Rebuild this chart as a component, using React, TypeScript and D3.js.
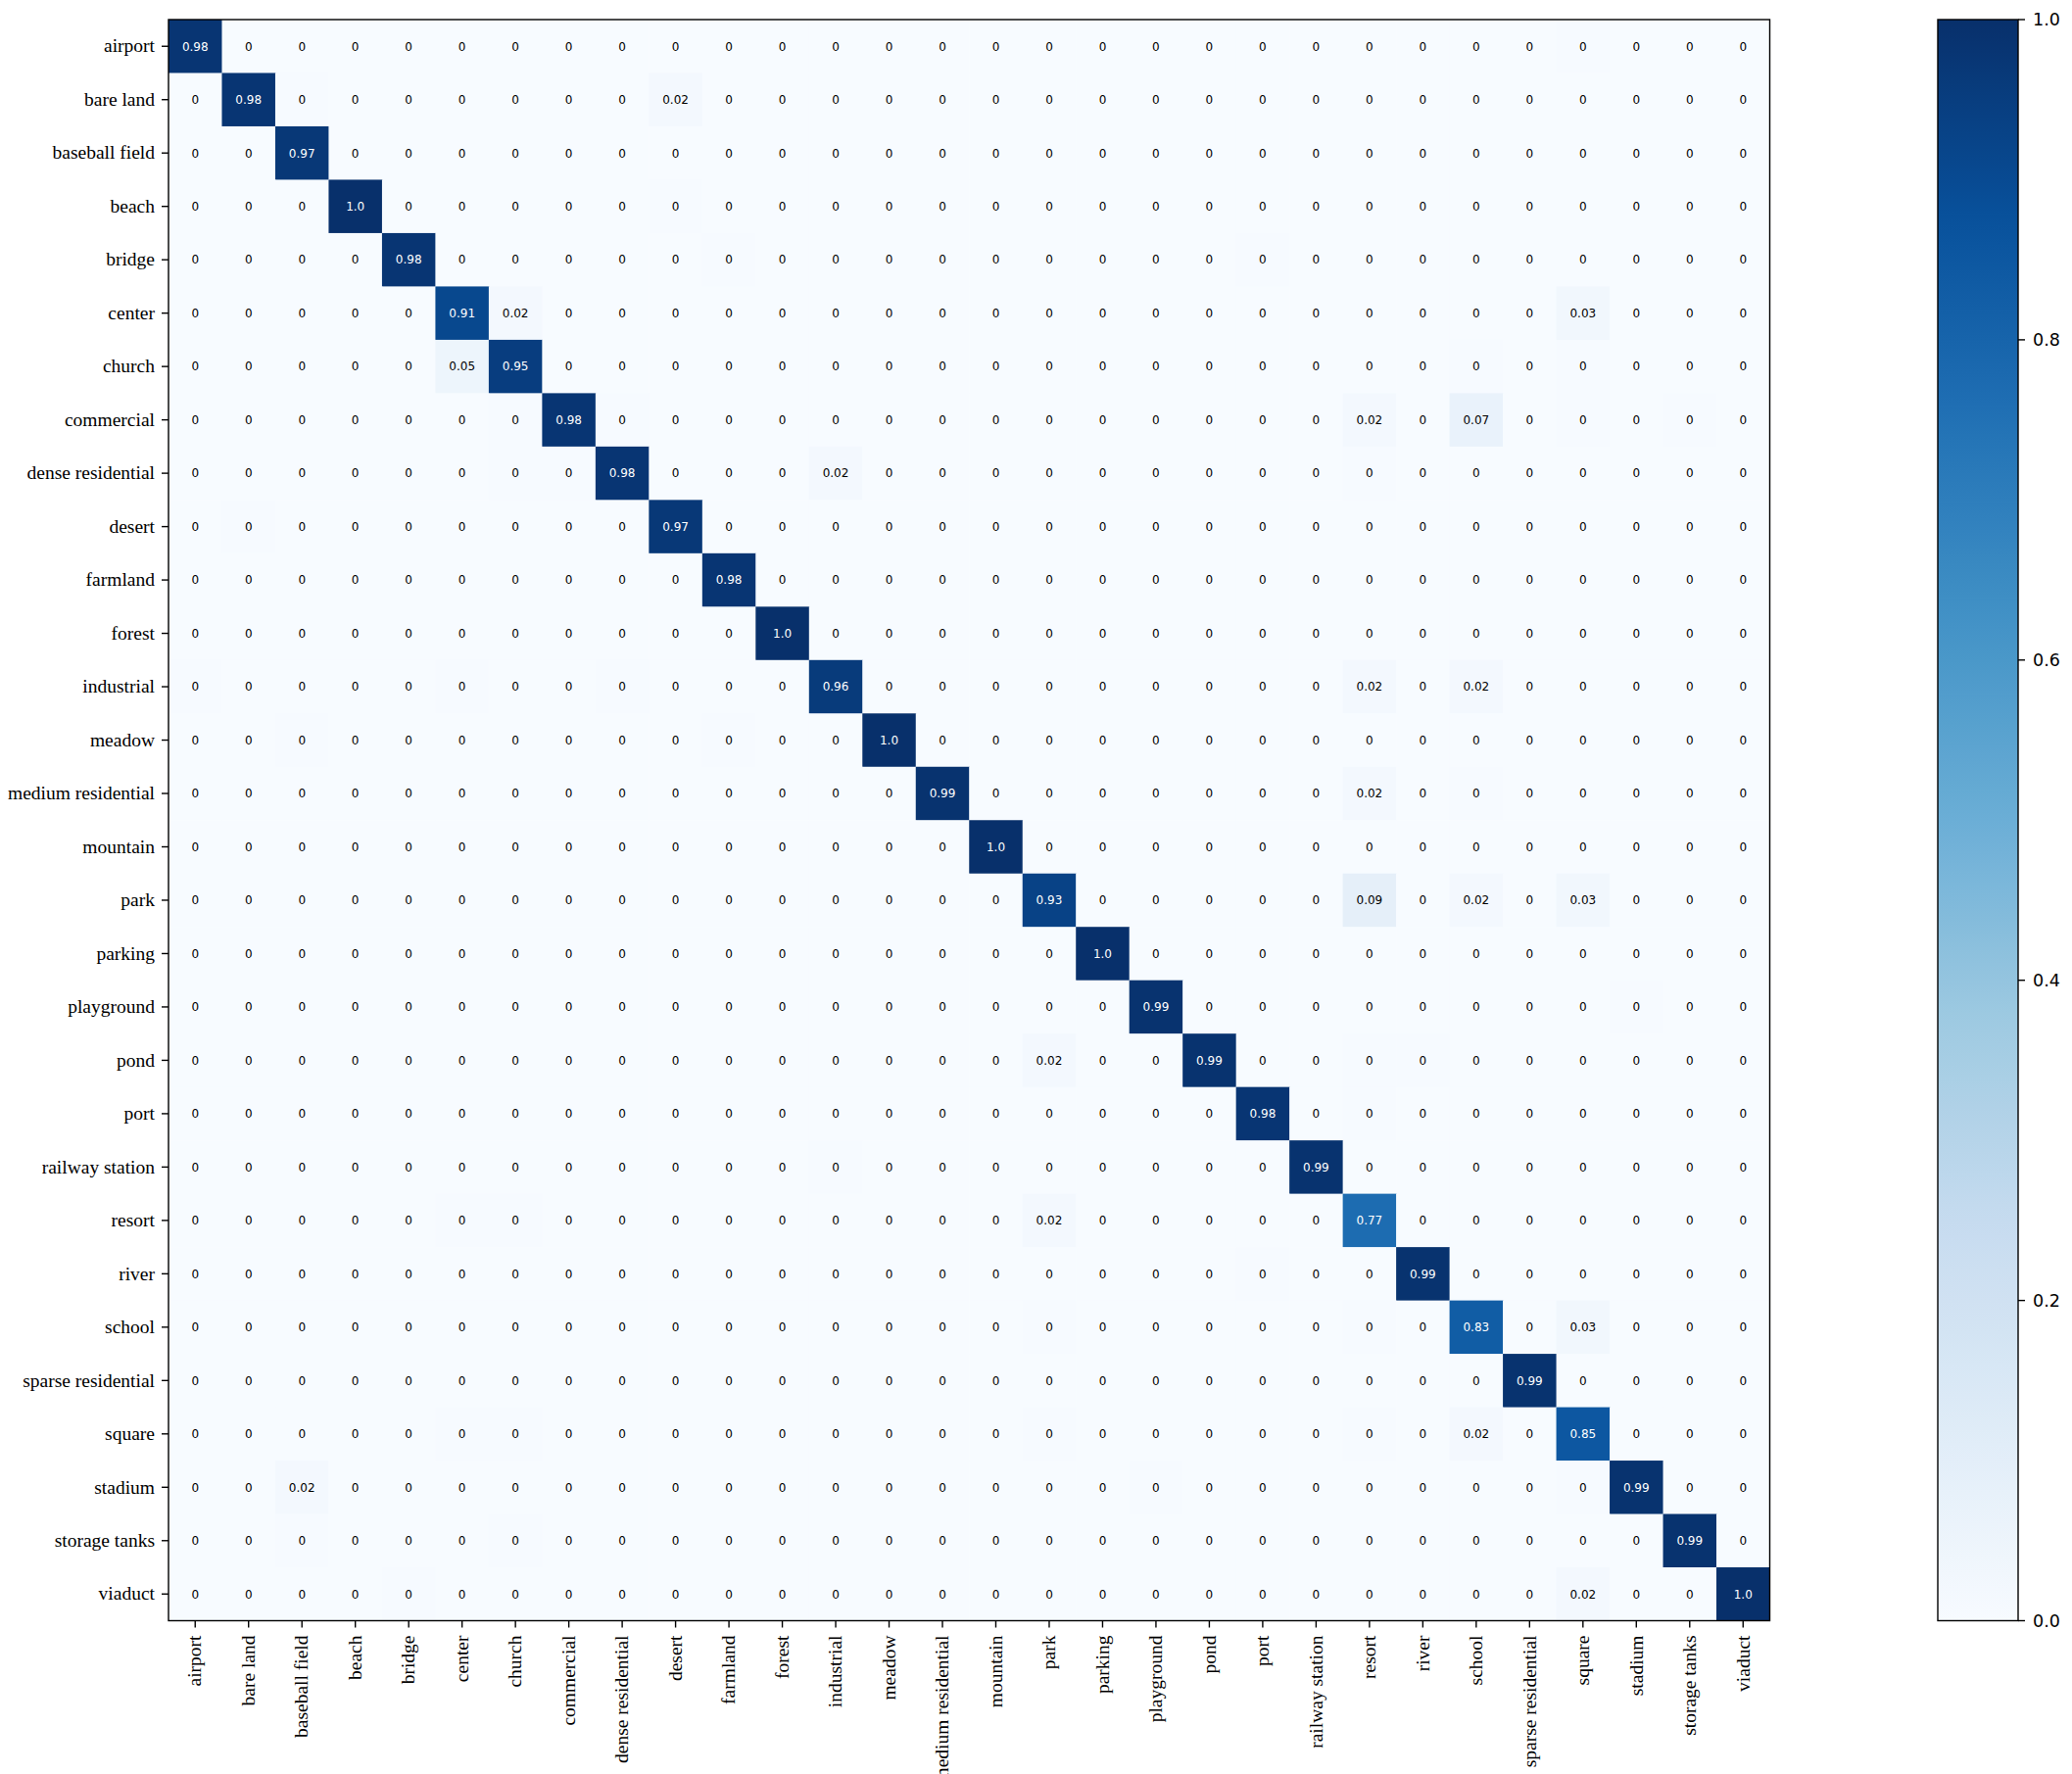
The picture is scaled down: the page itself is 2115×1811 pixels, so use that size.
import React, { useEffect } from "react";
import * as d3 from "d3";

const categories = [
  "airport", "bare land", "baseball field", "beach", "bridge", "center", "church",
  "commercial", "dense residential", "desert", "farmland", "forest", "industrial",
  "meadow", "medium residential", "mountain", "park", "parking", "playground", "pond",
  "port", "railway station", "resort", "river", "school", "sparse residential",
  "square", "stadium", "storage tanks", "viaduct",
];

// diagonal (correct predictions), per class
const diagonal = [
  0.98, 0.98, 0.97, 1.0, 0.98, 0.91, 0.95, 0.98, 0.98, 0.97,
  0.98, 1.0, 0.96, 1.0, 0.99, 1.0, 0.93, 1.0, 0.99, 0.99,
  0.98, 0.99, 0.77, 0.99, 0.83, 0.99, 0.85, 0.99, 0.99, 1.0,
];

// labelled confusions: [row (true), col (predicted), value]
const confusions: [number, number, number][] = [
  [1, 9, 0.02], [5, 6, 0.02], [5, 26, 0.03], [6, 5, 0.05], [7, 22, 0.02], [7, 24, 0.07],
  [8, 12, 0.02], [12, 22, 0.02], [12, 24, 0.02], [14, 22, 0.02], [16, 22, 0.09],
  [16, 24, 0.02], [16, 26, 0.03], [19, 16, 0.02], [22, 16, 0.02], [24, 26, 0.03],
  [26, 24, 0.02], [27, 2, 0.02], [29, 26, 0.02],
];

// tiny confusions that round to 0 but are faintly tinted
const tinyValue = 0.004;
const tinyCells: [number, number][] = [
  [0, 26], [1, 2], [3, 9], [4, 10], [4, 20], [6, 24], [6, 26], [7, 6], [7, 8], [7, 26],
  [7, 28], [8, 6], [8, 7], [8, 22], [9, 1], [12, 0], [12, 5], [12, 8], [13, 2], [13, 10],
  [14, 24], [18, 27], [19, 22], [19, 23], [20, 22], [21, 12], [22, 5], [22, 6], [23, 20],
  [24, 16], [24, 22], [26, 5], [26, 6], [26, 16], [26, 22], [27, 18], [27, 26], [28, 2],
  [28, 6], [29, 4],
];

const colorbarTicks = [0, 0.2, 0.4, 0.6, 0.8, 1.0];

const bluesStops = ["#f7fbff", "#deebf7", "#c6dbef", "#9ecae1", "#6baed6", "#4292c6", "#2171b5", "#08519c", "#08306b"];

const W = 2115, H = 1811;
const plotL = 172, plotR = 1806.5, plotT = 20, plotB = 1654.5;
const cbL = 1978, cbR = 2060;

function buildMatrix(): number[][] {
  const n = categories.length;
  const m: number[][] = Array.from({ length: n }, () => new Array(n).fill(0));
  diagonal.forEach((v, i) => { m[i][i] = v; });
  tinyCells.forEach(([r, c]) => { m[r][c] = tinyValue; });
  confusions.forEach(([r, c, v]) => { m[r][c] = v; });
  return m;
}

function fmt(v: number): string {
  const r = Math.round(v * 100) / 100;
  if (r === 0) return "0";
  if (r === 1) return "1.0";
  return String(r);
}

export default function App() {
  useEffect(() => {
    document.body.style.margin = "0";
    document.body.style.overflow = "hidden";
  }, []);

  const matrix = buildMatrix();
  const x = d3.scaleBand<string>().domain(categories).range([plotL, plotR]).padding(0);
  const y = d3.scaleBand<string>().domain(categories).range([plotT, plotB]).padding(0);
  const color = d3.scaleLinear<string>()
    .domain(d3.range(bluesStops.length).map((i) => i / (bluesStops.length - 1)))
    .range(bluesStops)
    .interpolate(d3.interpolateRgb)
    .clamp(true);
  const cbY = d3.scaleLinear().domain([0, 1]).range([plotB, plotT]);
  const bw = x.bandwidth();
  const bh = y.bandwidth();
  const gradStops = d3.range(0, 1.0001, 0.02);

  const serif = "'Liberation Serif', 'Times New Roman', serif";
  const sans = "'DejaVu Sans', sans-serif";

  return (
    <svg width={W} height={H} style={{ position: "absolute", left: 0, top: 0, background: "#fff" }}>
      <defs>
        <linearGradient id="cbgrad" x1="0" y1="1" x2="0" y2="0">
          {gradStops.map((t) => (
            <stop key={t} offset={`${t * 100}%`} stopColor={color(t)} />
          ))}
        </linearGradient>
      </defs>
      <rect x={0} y={0} width={W} height={H} fill="#fff" />
      {/* cells */}
      <g>
        {matrix.map((row, i) =>
          row.map((v, j) => (
            <rect
              key={`c${i}-${j}`}
              x={x(categories[j])!}
              y={y(categories[i])!}
              width={bw + 0.5}
              height={bh + 0.5}
              fill={color(v)}
            />
          ))
        )}
      </g>
      {/* cell labels */}
      <g fontFamily={sans} fontSize={12} textAnchor="middle">
        {matrix.map((row, i) =>
          row.map((v, j) => (
            <text
              key={`t${i}-${j}`}
              x={x(categories[j])! + bw / 2}
              y={y(categories[i])! + bh / 2}
              dy="0.36em"
              fill={v > 0.5 ? "#ffffff" : "#000000"}
            >
              {fmt(v)}
            </text>
          ))
        )}
      </g>
      {/* frame */}
      <rect x={plotL} y={plotT} width={plotR - plotL} height={plotB - plotT} fill="none" stroke="#000" strokeWidth={1.4} />
      {/* y axis */}
      <g>
        {categories.map((c) => {
          const cy = y(c)! + bh / 2;
          return (
            <g key={`y${c}`}>
              <line x1={plotL - 7} x2={plotL} y1={cy} y2={cy} stroke="#000" strokeWidth={1.4} />
              <text x={plotL - 14} y={cy} dy="0.32em" textAnchor="end" fontFamily={serif} fontSize={19.5} fill="#000">
                {c}
              </text>
            </g>
          );
        })}
      </g>
      {/* x axis */}
      <g>
        {categories.map((c) => {
          const cx = x(c)! + bw / 2;
          return (
            <g key={`x${c}`}>
              <line x1={cx} x2={cx} y1={plotB} y2={plotB + 7} stroke="#000" strokeWidth={1.4} />
              <text
                transform={`translate(${cx},${plotB + 15}) rotate(-90)`}
                dy="0.32em"
                textAnchor="end"
                fontFamily={serif}
                fontSize={19.5}
                fill="#000"
              >
                {c}
              </text>
            </g>
          );
        })}
      </g>
      {/* colorbar */}
      <rect x={cbL} y={plotT} width={cbR - cbL} height={plotB - plotT} fill="url(#cbgrad)" stroke="#000" strokeWidth={1.4} />
      <g>
        {colorbarTicks.map((t) => (
          <g key={`cb${t}`}>
            <line x1={cbR} x2={cbR + 7} y1={cbY(t)} y2={cbY(t)} stroke="#000" strokeWidth={1.4} />
            <text x={cbR + 15} y={cbY(t)} dy="0.36em" fontFamily={sans} fontSize={17.5} fill="#000">
              {t.toFixed(1)}
            </text>
          </g>
        ))}
      </g>
    </svg>
  );
}
